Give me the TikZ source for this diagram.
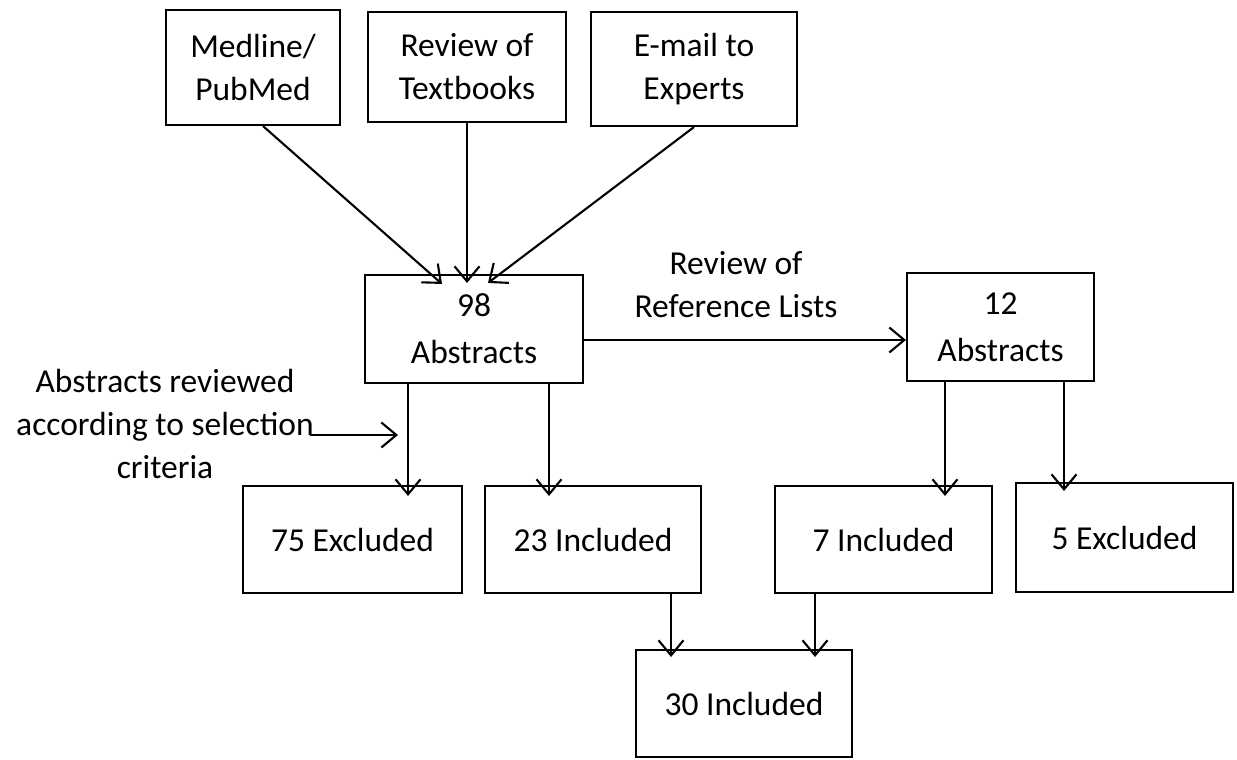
\documentclass[tikz,border=0pt]{standalone}
\usepackage{fontspec}
\setmainfont{Carlito}
\usetikzlibrary{arrows.meta,calc}
\tikzset{
  box/.style={draw, line width=2.1pt, inner sep=0pt, align=center,
    font=\fontsize{33.5}{43}\selectfont},
  abox/.style={box, font=\fontsize{33.5}{47}\selectfont},
  lbl/.style={inner sep=0pt, align=center, font=\fontsize{33.5}{43}\selectfont},
  arr/.style={line width=2.1pt, -{Straight Barb[length=15pt,width=25pt]}}
}
\begin{document}
\begin{tikzpicture}[x=1pt,y=-1pt]
\useasboundingbox (0,0) rectangle (1237,760);
\fill[white] (0,0) rectangle (1237,760);
% top sources
\node[box, minimum width=174pt, minimum height=115pt] (med) at (253,67.5) {Medline/\\PubMed};
\node[box, minimum width=198pt, minimum height=110pt] (txt) at (467,67) {Review of\\Textbooks};
\node[box, minimum width=206pt, minimum height=114pt] (exp) at (694,69) {E-mail to\\Experts};
% abstracts
\node[abox, minimum width=218pt, minimum height=108pt] (a98) at (474,329) {98\\Abstracts};
\node[abox, minimum width=187pt, minimum height=108pt] (a12) at (1000.5,327) {12\\Abstracts};
% results
\node[box, minimum width=219pt, minimum height=107pt] (ex75) at (352.5,539.5) {75 Excluded};
\node[box, minimum width=216pt, minimum height=107pt] (in23) at (593,539.5) {23 Included};
\node[box, minimum width=217pt, minimum height=107pt] (in7) at (883.5,539.5) {7 Included};
\node[box, minimum width=217pt, minimum height=109pt] (ex5) at (1124.5,537.5) {5 Excluded};
\node[box, minimum width=216pt, minimum height=107pt] (in30) at (744,703.5) {30 Included};
% labels
\node[lbl] (ref) at (736,285) {Review of\\Reference Lists};
\node[lbl] (crit) at (165,424) {Abstracts reviewed\\according to selection\\criteria};
% helper coordinates
\coordinate (m1) at ($(med.south)+(10,0)$);
\coordinate (m2) at ($(a98.north)+(-32,10)$);
\coordinate (t2) at ($(a98.north)+(-7,9)$);
\coordinate (e2) at ($(a98.north)+(14,9)$);
\coordinate (r1) at ($(a98.east)+(0,11)$);
\coordinate (d1) at ($(a98.south)+(-66,0)$);
\coordinate (d2) at ($(a98.south)+(75,0)$);
\coordinate (d3) at ($(a12.south)+(-55.5,0)$);
\coordinate (d4) at ($(a12.south)+(63.5,0)$);
\coordinate (f1) at ($(in23.south)+(78,0)$);
\coordinate (f2) at ($(in7.south)+(-68.5,0)$);
\coordinate (c1) at (310,435);
\coordinate (c2) at (398,435);
% connectors
\draw[arr] (m1) -- (m2);
\draw[arr] (txt.south) -- (t2);
\draw[arr] (exp.south) -- (e2);
\draw[arr] (r1) -- (r1 -| a12.west);
\draw[arr] (d1) -- ($(d1 |- ex75.north)+(0,11)$);
\draw[arr] (d2) -- ($(d2 |- in23.north)+(0,11)$);
\draw[arr] (d3) -- ($(d3 |- in7.north)+(0,11)$);
\draw[arr] (d4) -- ($(d4 |- ex5.north)+(0,9)$);
\draw[arr] (f1) -- ($(f1 |- in30.north)+(0,8)$);
\draw[arr] (f2) -- ($(f2 |- in30.north)+(0,8)$);
\draw[arr] (c1) -- (c2);
\end{tikzpicture}
\end{document}
